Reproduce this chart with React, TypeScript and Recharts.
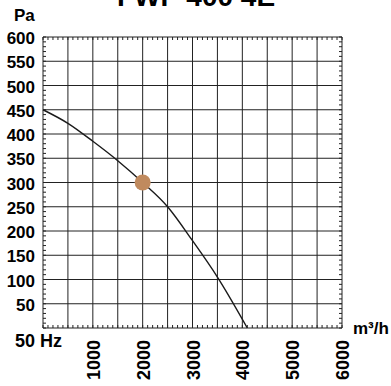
import { ComposedChart, Line, Scatter, XAxis, YAxis, CartesianGrid } from 'recharts';

const flow = [0, 500, 1000, 1500, 2000, 2500, 3000, 3500, 4100];
const pressure = [450, 422, 385, 345, 300, 250, 180, 105, 0];
const opPoint = [{ q: 2000, p: 300 }];

const xTicks = [0, 500, 1000, 1500, 2000, 2500, 3000, 3500, 4000, 4500, 5000, 5500, 6000];
const xLabels = [1000, 2000, 3000, 4000, 5000, 6000];
const yTicks = [0, 50, 100, 150, 200, 250, 300, 350, 400, 450, 500, 550, 600];
const yLabels = [50, 100, 150, 200, 250, 300, 350, 400, 450, 500, 550, 600];
const xMinor = Array.from({ length: 61 }, (_, i) => i * 100);
const yMinor = Array.from({ length: 61 }, (_, i) => i * 10);

const curve = flow.map((q, i) => ({ q, p: pressure[i] }));
const font = '"Liberation Sans", Arial, sans-serif';

const YTick = ({ x, y, payload }: any) =>
  yLabels.includes(payload.value) ? (
    <text x={x} y={y} dy={7} textAnchor="end" fontFamily={font} fontWeight="bold" fontSize={17} fill="#000">
      {payload.value}
    </text>
  ) : null;

const XTick = ({ x, y, payload }: any) =>
  xLabels.includes(payload.value) ? (
    <text transform={`translate(${x + 1},${y + 4}) rotate(-90)`} textAnchor="end" dy={6} fontFamily={font} fontWeight="bold" fontSize={18} fill="#000">
      {payload.value}
    </text>
  ) : null;

const NoLabel = () => <g />;
const minorLine = { stroke: '#222', strokeWidth: 1 };

export default function App() {
  return (
    <div style={{ position: 'absolute', left: 0, top: 0 }}>
      <ComposedChart width={391} height={386} margin={{ top: 37, right: 49, left: 0, bottom: 0 }}>
        <CartesianGrid xAxisId="main" yAxisId="main" stroke="#222" strokeWidth={1} />
        <XAxis xAxisId="main" dataKey="q" type="number" domain={[0, 6000]} ticks={xTicks} height={58} tick={<XTick />} tickLine={false} axisLine={false} interval={0} />
        <YAxis yAxisId="main" dataKey="p" type="number" domain={[0, 600]} ticks={yTicks} width={43} tick={<YTick />} tickLine={false} axisLine={false} interval={0} />
        <XAxis xAxisId="minTop" orientation="top" mirror dataKey="q" type="number" domain={[0, 6000]} ticks={xMinor} height={4} tick={<NoLabel />} tickSize={3} axisLine={false} tickLine={minorLine} interval={0} />
        <XAxis xAxisId="minBot" orientation="bottom" mirror dataKey="q" type="number" domain={[0, 6000]} ticks={xMinor} height={4} tick={<NoLabel />} tickSize={3} axisLine={false} tickLine={minorLine} interval={0} />
        <YAxis yAxisId="minLeft" orientation="left" mirror dataKey="p" type="number" domain={[0, 600]} ticks={yMinor} width={4} tick={<NoLabel />} tickSize={3} axisLine={false} tickLine={minorLine} interval={0} />
        <YAxis yAxisId="minRight" orientation="right" mirror dataKey="p" type="number" domain={[0, 600]} ticks={yMinor} width={4} tick={<NoLabel />} tickSize={3} axisLine={false} tickLine={minorLine} interval={0} />
        <Line xAxisId="minTop" yAxisId="minLeft" data={curve} dataKey="p" stroke="none" dot={false} isAnimationActive={false} />
        <Line xAxisId="minBot" yAxisId="minRight" data={curve} dataKey="p" stroke="none" dot={false} isAnimationActive={false} />
        <Line xAxisId="main" yAxisId="main" data={curve} dataKey="p" type="monotone" stroke="#1a1a1a" strokeWidth={1.4} dot={false} isAnimationActive={false} />
        <Scatter xAxisId="main" yAxisId="main" data={opPoint} dataKey="p" fill="#C08A5E" shape={(props: any) => <circle cx={props.cx} cy={props.cy} r={8} fill="#C08A5E" />} isAnimationActive={false} />
        <text x={196} y={6} textAnchor="middle" fontFamily={font} fontWeight="bold" fontSize={28} fill="#000">FWP 400 4E</text>
        <text x={14} y={21} fontFamily={font} fontWeight="bold" fontSize={17} fill="#000">Pa</text>
        <text x={15} y={347} fontFamily={font} fontWeight="bold" fontSize={18} fill="#000">50 Hz</text>
        <text x={353} y={334} fontFamily={font} fontWeight="bold" fontSize={17} fill="#000">m³/h</text>
      </ComposedChart>
    </div>
  );
}
